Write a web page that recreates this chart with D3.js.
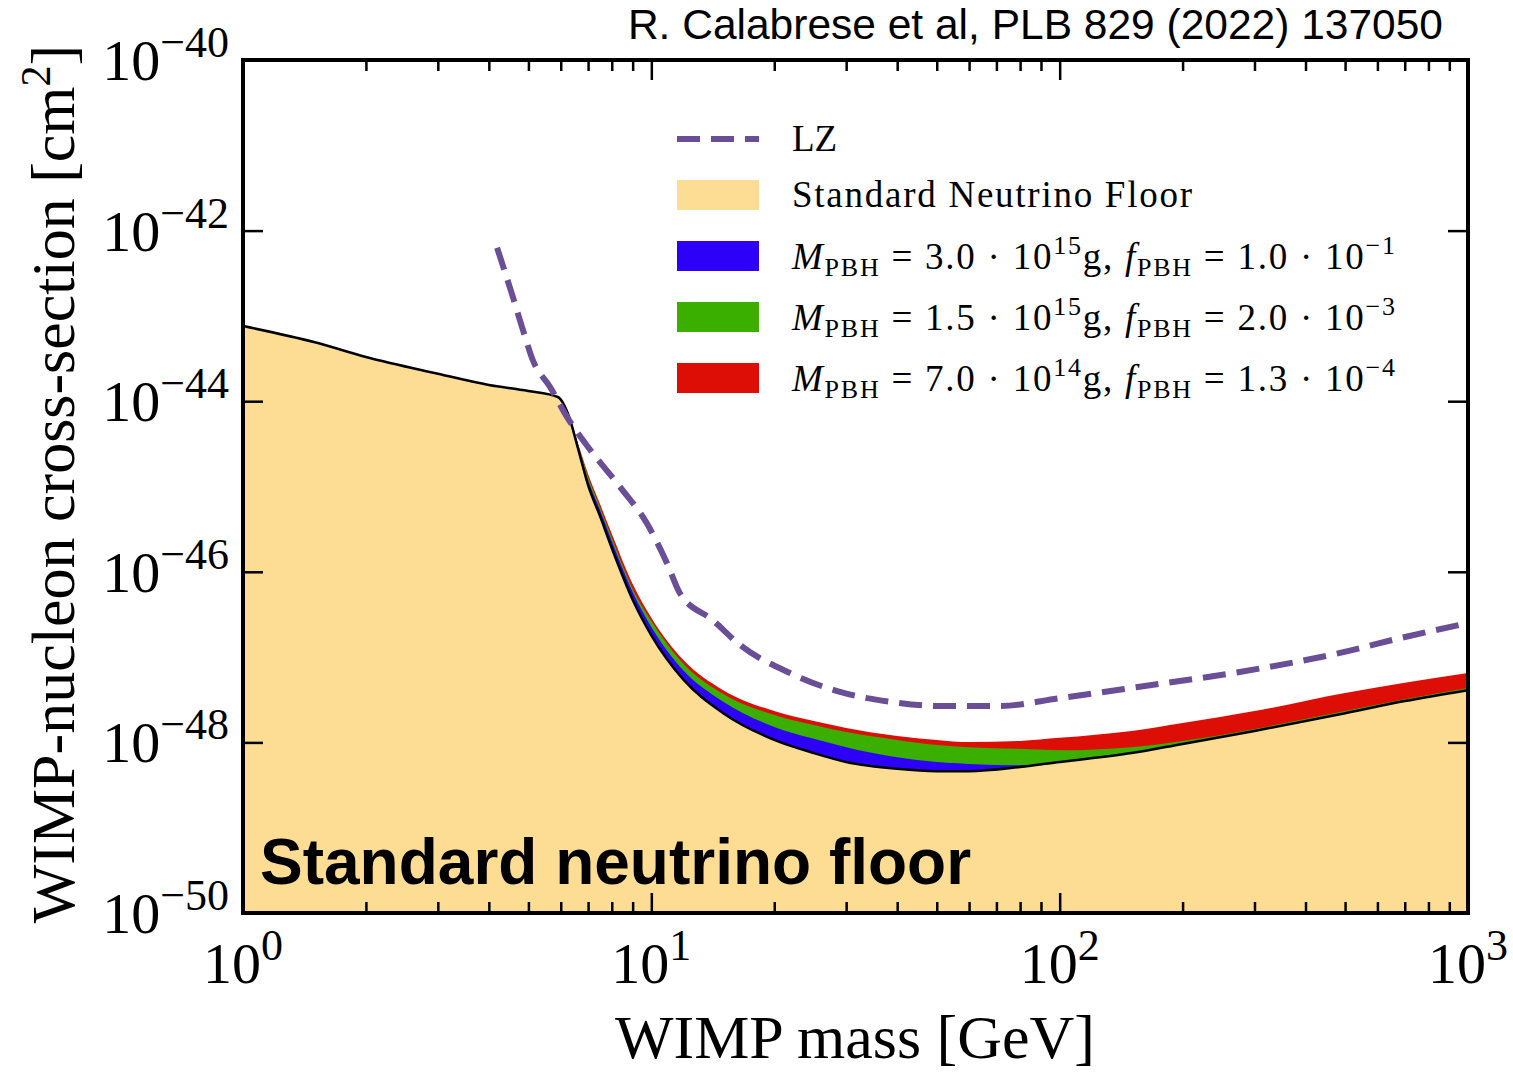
<!DOCTYPE html>
<html>
<head>
<meta charset="utf-8">
<script src="https://cdn.jsdelivr.net/npm/d3@7"></script>
<style>
  body { margin: 0; background: #fff; }
  svg { display: block; }
  text { font-family: "Liberation Serif", "Times New Roman", serif; fill: #000; }
</style>
</head>
<body>
<svg id="chart" width="1513" height="1072"></svg>
<script>
// WIMP mass grid [GeV] and standard neutrino floor [cm^2]
const floorMass = [1, 1.5, 2, 3, 4, 5, 5.9, 6.3, 6.6, 7, 7.5, 8, 9, 10, 12, 15, 20, 25, 30, 40, 50, 60, 80, 100, 150, 200, 300, 500, 700, 1000];
const floorSigma = [7.6e-44, 4.9e-44, 3.3e-44, 2.1e-44, 1.55e-44, 1.32e-44, 1.12e-44, 6.4e-45, 2.9e-45, 1.04e-45, 4.4e-46, 1.9e-46, 4.7e-47, 1.8e-47, 5.4e-48, 2.2e-48, 1.07e-48, 7.5e-49, 5.9e-49, 4.9e-49, 4.6e-49, 4.6e-49, 5.15e-49, 5.9e-49, 7.5e-49, 9.6e-49, 1.36e-48, 2.2e-48, 3.05e-48, 4.1e-48];

// modified floors with PBH neutrinos, on the grid from 5.9 GeV up
const bandMass = floorMass.slice(6);
const redTop = [1.12e-44, 6.7e-45, 3.3e-45, 1.4e-45, 6.1e-46, 2.8e-46, 7.2e-47, 2.9e-47, 9.2e-48, 4.1e-48, 2.33e-48, 1.78e-48, 1.48e-48, 1.19e-48, 1.07e-48, 1.01e-48, 1.04e-48, 1.13e-48, 1.36e-48, 1.69e-48, 2.33e-48, 3.8e-48, 5.0e-48, 6.5e-48];
const greenTop = [1.12e-44, 6.6e-45, 3.2e-45, 1.29e-45, 5.6e-46, 2.5e-46, 6.3e-47, 2.65e-47, 8.3e-48, 3.7e-48, 2.1e-48, 1.60e-48, 1.32e-48, 1.07e-48, 9.3e-49, 8.8e-49, 8.4e-49, 8.1e-49, 8.8e-49, 1.04e-48, 1.44e-48, 2.33e-48, 3.2e-48, 4.35e-48];
const blueTop = [1.12e-44, 6.5e-45, 3.15e-45, 1.19e-45, 5.2e-46, 2.3e-46, 5.8e-47, 2.25e-47, 6.9e-48, 3.0e-48, 1.52e-48, 1.10e-48, 8.8e-49, 6.7e-49, 5.9e-49, 5.6e-49, 5.4e-49, 5.9e-49, 7.5e-49, 9.6e-49, 1.36e-48, 2.2e-48, 3.05e-48, 4.1e-48];

// LZ limit
const lzMass = [4.19, 4.58, 4.85, 5.13, 5.65, 6.22, 7.08, 8.38, 9.75, 10.92, 11.75, 14.16, 16.48, 21.86, 28.99, 38.43, 50.9, 71.4, 100, 157, 276, 486, 682, 1000];
const lzSigma = [6.3e-43, 1.67e-43, 6.8e-44, 3.0e-44, 1.47e-44, 6.5e-45, 2.7e-45, 9.9e-46, 3.7e-46, 1.27e-46, 5.6e-47, 2.7e-47, 1.39e-47, 6.5e-48, 3.9e-48, 3.0e-48, 2.67e-48, 2.67e-48, 3.3e-48, 4.5e-48, 6.7e-48, 1.12e-47, 1.67e-47, 2.5e-47];

// legend entries for the PBH bands
const pbhMass = ["3.0", "1.5", "7.0"];
const pbhMassExp = ["15", "15", "14"];
const pbhFrac = ["1.0", "2.0", "1.3"];
const pbhFracExp = ["\u22121", "\u22123", "\u22124"];
const pbhColors = ["#2d00f7", "#3aaf00", "#dd0e05"];

const xTickExp = [0, 1, 2, 3];
const yTickExp = [-40, -42, -44, -46, -48, -50];

const colors = { floor: "#fddc94", lz: "#6a4f96" };

const svg = d3.select("#chart");
const box = { left: 243, right: 1468, top: 60, bottom: 913 };

const x = d3.scaleLog().domain([1, 1000]).range([box.left, box.right]);
const y = d3.scaleLog().domain([1e-50, 1e-40]).range([box.bottom, box.top]);

svg.append("defs").append("clipPath").attr("id", "plot-clip")
  .append("rect")
    .attr("x", box.left).attr("y", box.top)
    .attr("width", box.right - box.left).attr("height", box.bottom - box.top);

const plot = svg.append("g").attr("clip-path", "url(#plot-clip)");

const floorData = floorMass.map((m, i) => ({ m: m, s: floorSigma[i] }));

// orange floor fill
plot.append("path")
  .datum(floorData)
  .attr("fill", colors.floor)
  .attr("d", d3.area()
    .x(d => x(d.m))
    .y0(y(1e-50))
    .y1(d => y(d.s))
    .curve(d3.curveMonotoneX));

// PBH bands: red widest, drawn first
const bands = [
  { top: redTop, color: pbhColors[2] },
  { top: greenTop, color: pbhColors[1] },
  { top: blueTop, color: pbhColors[0] }
];
const bandArea = d3.area()
  .x(d => x(d.m))
  .y0(d => y(d.lo))
  .y1(d => y(d.hi))
  .curve(d3.curveMonotoneX);

bands.forEach(b => {
  const rows = bandMass.map((m, i) => ({ m: m, lo: floorSigma[i + 6], hi: b.top[i] }));
  plot.append("path").datum(rows).attr("fill", b.color).attr("d", bandArea);
});

// black floor line
plot.append("path")
  .datum(floorData)
  .attr("fill", "none")
  .attr("stroke", "#000")
  .attr("stroke-width", 2.5)
  .attr("d", d3.line().x(d => x(d.m)).y(d => y(d.s)).curve(d3.curveMonotoneX));

// LZ dashed
plot.append("path")
  .datum(lzMass.map((m, i) => ({ m: m, s: lzSigma[i] })))
  .attr("fill", "none")
  .attr("stroke", colors.lz)
  .attr("stroke-width", 6)
  .attr("stroke-dasharray", "23,11")
  .attr("d", d3.line().x(d => x(d.m)).y(d => y(d.s)).curve(d3.curveMonotoneX));

// ticks (inward, all four sides)
const xMajor = xTickExp.map(e => Math.pow(10, e));
const xMinor = [];
for (let e = 0; e < 3; e++) for (let k = 2; k <= 9; k++) xMinor.push(k * Math.pow(10, e));
const yMajor = yTickExp.map(e => Math.pow(10, e));

function tickAxis(axis, transform) {
  const g = svg.append("g").attr("transform", transform).call(axis);
  g.select(".domain").remove();
  g.selectAll("text").remove();
  g.selectAll("line").attr("stroke", "#000").attr("stroke-width", 2.5);
}
tickAxis(d3.axisBottom(x).tickValues(xMajor).tickSize(-20), `translate(0,${box.bottom})`);
tickAxis(d3.axisBottom(x).tickValues(xMinor).tickSize(-11), `translate(0,${box.bottom})`);
tickAxis(d3.axisTop(x).tickValues(xMajor).tickSize(-20), `translate(0,${box.top})`);
tickAxis(d3.axisTop(x).tickValues(xMinor).tickSize(-11), `translate(0,${box.top})`);
tickAxis(d3.axisLeft(y).tickValues(yMajor).tickSize(-20), `translate(${box.left},0)`);
tickAxis(d3.axisRight(y).tickValues(yMajor).tickSize(-20), `translate(${box.right},0)`);

// frame
svg.append("rect")
  .attr("x", box.left).attr("y", box.top)
  .attr("width", box.right - box.left).attr("height", box.bottom - box.top)
  .attr("fill", "none").attr("stroke", "#000").attr("stroke-width", 4);

// tick labels 10^n
function powerLabel(px, py, exp, anchor) {
  const t = svg.append("text")
    .attr("x", px).attr("y", py)
    .attr("text-anchor", anchor)
    .attr("font-size", 58);
  t.append("tspan").text("10");
  t.append("tspan").attr("font-size", 44).attr("dy", -23)
    .text(exp < 0 ? "\u2212" + (-exp) : String(exp));
}
xTickExp.forEach(e => powerLabel(x(Math.pow(10, e)), 983, e, "middle"));
yTickExp.forEach(e => powerLabel(229, y(Math.pow(10, e)) + 20, e, "end"));

// axis titles
svg.append("text")
  .attr("x", 855).attr("y", 1058)
  .attr("text-anchor", "middle")
  .attr("font-size", 62)
  .text("WIMP mass [GeV]");

const yTitle = svg.append("text")
  .attr("transform", "translate(74,484) rotate(-90)")
  .attr("text-anchor", "middle")
  .attr("font-size", 62);
yTitle.append("tspan").text("WIMP-nucleon cross-section [cm");
yTitle.append("tspan").attr("font-size", 42).attr("dy", -24).text("2");
yTitle.append("tspan").attr("dy", 24).text("]");

// header
svg.append("text")
  .attr("x", 1443).attr("y", 39)
  .attr("text-anchor", "end")
  .style("font-family", "'Liberation Sans', Arial, sans-serif")
  .attr("font-size", 42.5)
  .text("R. Calabrese et al, PLB 829 (2022) 137050");

svg.append("text")
  .attr("x", 260).attr("y", 884)
  .style("font-family", "'Liberation Sans', Arial, sans-serif")
  .attr("font-weight", "bold")
  .attr("font-size", 64)
  .text("Standard neutrino floor");

// legend
const legend = svg.append("g");
const lx = 677, lw = 82, tx = 792;

legend.append("line")
  .attr("x1", lx).attr("x2", lx + lw).attr("y1", 139).attr("y2", 139)
  .attr("stroke", colors.lz).attr("stroke-width", 6).attr("stroke-dasharray", "23,11");
legend.append("text").attr("x", tx).attr("y", 151).attr("font-size", 37).text("LZ");

legend.append("rect")
  .attr("x", lx).attr("y", 180).attr("width", lw).attr("height", 30)
  .attr("fill", colors.floor);
legend.append("text").attr("x", tx).attr("y", 207).attr("font-size", 37)
  .attr("textLength", 400).attr("lengthAdjust", "spacing")
  .text("Standard Neutrino Floor");

pbhColors.forEach((c, i) => {
  const yy = 241 + i * 61;
  legend.append("rect")
    .attr("x", lx).attr("y", yy).attr("width", lw).attr("height", 30)
    .attr("fill", c);
  const t = legend.append("text").attr("x", tx).attr("y", yy + 28).attr("font-size", 37)
    .attr("textLength", 603).attr("lengthAdjust", "spacing");
  t.append("tspan").attr("font-style", "italic").text("M");
  t.append("tspan").attr("font-size", 26).attr("dy", 7).text("PBH");
  t.append("tspan").attr("dy", -7).text(" = " + pbhMass[i] + " \u00b7 10");
  t.append("tspan").attr("font-size", 26).attr("dy", -15).text(pbhMassExp[i]);
  t.append("tspan").attr("dy", 15).text("g, ");
  t.append("tspan").attr("font-style", "italic").text("f");
  t.append("tspan").attr("font-size", 26).attr("dy", 7).text("PBH");
  t.append("tspan").attr("dy", -7).text(" = " + pbhFrac[i] + " \u00b7 10");
  t.append("tspan").attr("font-size", 26).attr("dy", -15).text(pbhFracExp[i]);
});
</script>
</body>
</html>
